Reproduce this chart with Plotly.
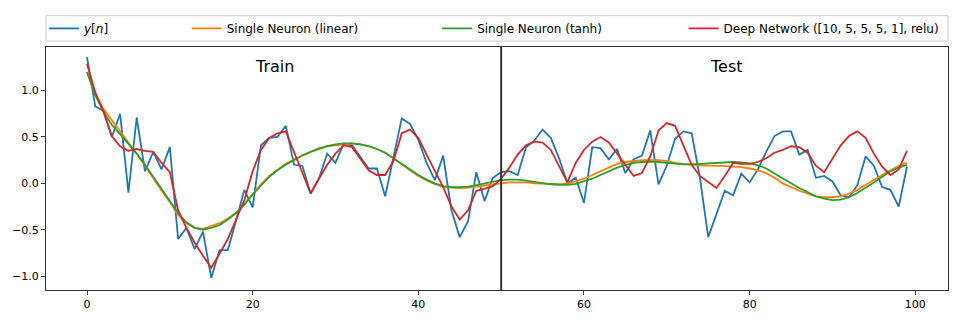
import plotly.graph_objects as go

n = list(range(100))

y_true = [1.36, 0.83, 0.78, 0.50, 0.75, -0.10, 0.71, 0.13, 0.34, 0.15,
          0.39, -0.60, -0.48, -0.71, -0.52, -1.02, -0.72, -0.72, -0.40, -0.07,
          -0.26, 0.41, 0.49, 0.50, 0.62, 0.20, 0.19, -0.11, 0.05, 0.32,
          0.22, 0.43, 0.41, 0.29, 0.16, 0.16, -0.14, 0.28, 0.70, 0.64,
          0.47, 0.22, 0.035, 0.30, -0.29, -0.58, -0.41, 0.12, -0.19, 0.06,
          0.12, 0.13, 0.09, 0.39, 0.46, 0.58, 0.49, 0.27, 0.00, 0.06,
          -0.21, 0.39, 0.38, 0.26, 0.37, 0.11, 0.26, 0.30, 0.57, -0.01,
          0.19, 0.48, 0.56, 0.54, 0.06, -0.58, -0.32, -0.08, -0.13, 0.105,
          0.01, 0.15, 0.34, 0.51, 0.56, 0.56, 0.31, 0.36, 0.06, 0.08,
          0.02, -0.13, -0.15, -0.02, 0.29, 0.19, -0.04, -0.07, -0.25, 0.18]

y_linear = [1.20, 0.96, 0.80, 0.68, 0.56, 0.45, 0.32, 0.19, 0.05, -0.08,
            -0.20, -0.34, -0.43, -0.48, -0.49, -0.46, -0.43, -0.38, -0.32, -0.22,
            -0.11, -0.01, 0.08, 0.15, 0.21, 0.26, 0.30, 0.34, 0.38, 0.40,
            0.41, 0.42, 0.43, 0.42, 0.40, 0.37, 0.33, 0.27, 0.20, 0.14,
            0.08, 0.03, -0.01, -0.035, -0.045, -0.05, -0.045, -0.035, -0.02, -0.01,
            0.00, 0.01, 0.01, 0.01, 0.00, -0.005, -0.01, -0.01, 0.00, 0.02,
            0.05, 0.09, 0.13, 0.17, 0.21, 0.23, 0.24, 0.25, 0.25, 0.25,
            0.24, 0.22, 0.21, 0.20, 0.195, 0.19, 0.19, 0.185, 0.18, 0.175,
            0.16, 0.14, 0.11, 0.06, 0.00, -0.04, -0.08, -0.11, -0.14, -0.15,
            -0.15, -0.14, -0.11, -0.07, -0.02, 0.035, 0.09, 0.14, 0.19, 0.22]

y_tanh = [1.20, 0.95, 0.77, 0.63, 0.53, 0.43, 0.32, 0.20, 0.07, -0.06,
          -0.19, -0.32, -0.42, -0.48, -0.50, -0.48, -0.45, -0.39, -0.32, -0.23,
          -0.12, -0.02, 0.07, 0.14, 0.20, 0.25, 0.30, 0.34, 0.37, 0.40,
          0.42, 0.43, 0.43, 0.42, 0.40, 0.37, 0.33, 0.27, 0.21, 0.15,
          0.09, 0.04, 0.00, -0.03, -0.04, -0.04, -0.035, -0.02, 0.00, 0.02,
          0.035, 0.04, 0.04, 0.03, 0.015, 0.00, -0.01, -0.015, -0.015, -0.005,
          0.02, 0.05, 0.09, 0.13, 0.17, 0.20, 0.22, 0.23, 0.235, 0.23,
          0.22, 0.21, 0.205, 0.205, 0.21, 0.215, 0.22, 0.225, 0.23, 0.225,
          0.215, 0.195, 0.16, 0.105, 0.05, 0.00, -0.05, -0.095, -0.14, -0.165,
          -0.18, -0.175, -0.15, -0.105, -0.05, 0.01, 0.07, 0.13, 0.17, 0.20]

y_deep = [1.29, 0.98, 0.77, 0.51, 0.40, 0.35, 0.37, 0.35, 0.34, 0.22,
          0.12, -0.29, -0.48, -0.64, -0.78, -0.91, -0.76, -0.60, -0.39, -0.18,
          0.13, 0.36, 0.49, 0.54, 0.56, 0.33, 0.12, -0.11, 0.05, 0.20,
          0.32, 0.41, 0.39, 0.27, 0.14, 0.09, 0.09, 0.24, 0.54, 0.58,
          0.49, 0.31, 0.13, -0.04, -0.25, -0.39, -0.29, -0.08, -0.06, -0.03,
          0.05, 0.17, 0.31, 0.41, 0.45, 0.44, 0.36, 0.19, 0.01, 0.22,
          0.36, 0.45, 0.50, 0.44, 0.32, 0.20, 0.08, 0.11, 0.29, 0.57,
          0.65, 0.62, 0.40, 0.20, 0.08, 0.01, -0.05, 0.08, 0.22, 0.21,
          0.21, 0.23, 0.27, 0.33, 0.36, 0.40, 0.39, 0.33, 0.19, 0.12,
          0.27, 0.41, 0.51, 0.56, 0.49, 0.32, 0.18, 0.09, 0.15, 0.35]

names = ["<i>y</i>[<i>n</i>]", "Single Neuron (linear)", "Single Neuron (tanh)",
         "Deep Network ([10, 5, 5, 5, 1], relu)"]
colors = ["#1f77b4", "#ff7f0e", "#2ca02c", "#d62728"]
series = [y_true, y_linear, y_tanh, y_deep]
split_x = 50
x_ticks = [0, 20, 40, 60, 80, 100]
y_ticks = [-1.0, -0.5, 0.0, 0.5, 1.0]
section_labels = [("Train", 20), ("Test", 75)]

FONT = "DejaVu Sans"
W, H = 968, 323
ml, mr, mt, mb = 44, 20, 47, 28
pw = W - ml - mr
ph = H - mt - mb

legend_names = ["legend", "legend2", "legend3", "legend4"]
legend_px = [48, 191, 442, 689]

fig = go.Figure()
for i, (nm, c, ys) in enumerate(zip(names, colors, series)):
    fig.add_trace(go.Scatter(x=n, y=ys, mode="lines", name=nm,
                             line=dict(color=c, width=1.8),
                             legend=legend_names[i]))

layout_legends = {}
for ln, px in zip(legend_names, legend_px):
    layout_legends[ln] = dict(
        x=(px - 6 - ml) / pw, xanchor="left",
        y=(H - mb - 28) / ph, yanchor="middle",
        orientation="h", bgcolor="rgba(0,0,0,0)", borderwidth=0,
        font=dict(family=FONT, size=12, color="#000000"),
        itemwidth=30,
    )

fig.update_layout(
    width=W, height=H,
    margin=dict(l=ml, r=mr, t=mt, b=mb),
    paper_bgcolor="white", plot_bgcolor="white",
    font=dict(family=FONT, size=11, color="#000000"),
    showlegend=True,
    **layout_legends,
)

fig.update_xaxes(range=[-4.95, 103.95], tickvals=x_ticks, ticks="outside", ticklen=4,
                 tickcolor="#333333", showline=True, linecolor="#333333", linewidth=1,
                 mirror=True, showgrid=False, zeroline=False,
                 tickfont=dict(family=FONT, size=11, color="#000000"))
fig.update_yaxes(range=[-1.15, 1.47], tickvals=y_ticks, tickformat=".1f", ticks="outside",
                 ticklen=4, tickcolor="#333333", showline=True, linecolor="#333333",
                 linewidth=1, mirror=True, showgrid=False, zeroline=False,
                 tickfont=dict(family=FONT, size=11, color="#000000"))

# train/test split line
fig.add_shape(type="line", xref="x", yref="paper", x0=split_x, x1=split_x, y0=0, y1=1,
              line=dict(color="#333333", width=2))

# legend frame
fig.add_shape(type="rect", xref="paper", yref="paper",
              x0=0, x1=1, y0=(H - mb - 41) / ph, y1=(H - mb - 15) / ph,
              line=dict(color="#cccccc", width=1), fillcolor="rgba(255,255,255,0.8)",
              layer="below")

for txt, xv in section_labels:
    fig.add_annotation(x=xv, y=1.255, xref="x", yref="y", text=txt, showarrow=False,
                       xanchor="left", yanchor="middle",
                       font=dict(family=FONT, size=16, color="#000000"))

fig.write_html("out.html")
